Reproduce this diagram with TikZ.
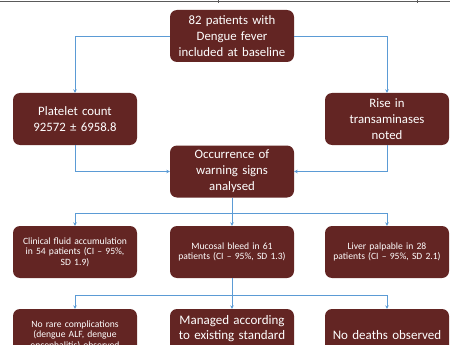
\documentclass[tikz,border=0pt]{standalone}
\usepackage{fontspec}
\setmainfont{Carlito}
\usetikzlibrary{arrows.meta}
\definecolor{boxred}{HTML}{632523}
\definecolor{linkblue}{HTML}{5B9BD5}
\definecolor{rulegray}{HTML}{5A5A5A}
\begin{document}
\begin{tikzpicture}[
  x=1pt, y=-1pt,
  box/.style={rectangle, rounded corners=7pt, fill=boxred, text=white,
    minimum width=124pt, minimum height=52pt, inner sep=2pt,
    text width=120pt, align=center, font=\fontsize{12.8}{16}\selectfont},
  smallbox/.style={box, font=\fontsize{9.6}{10.5}\selectfont},
  largebox/.style={box, font=\fontsize{13}{15}\selectfont},
  link/.style={draw=linkblue, line width=0.8pt, -{Stealth[length=3.5pt,width=3.5pt]}}
]
\useasboundingbox (0,0) rectangle (450,345);
\clip (0,0) rectangle (450,345);
% rule of the table above
\draw[rulegray, line width=1.3pt] (0,1.5) -- (450,1.5);
\draw[rulegray, line width=0.8pt] (218,0) -- (218,3) (417,0) -- (417,3);

\node[box] (base) at (232,36) {82 patients with\\Dengue fever\\included at baseline};
\node[box] (platelet) at (75,119) {Platelet count\\92572 ± 6958.8};
\node[box] (transam) at (387,119) {Rise in\\transaminases\\noted};
\node[box] (warning) at (232,171.5) {Occurrence of\\warning signs\\analysed};

\node[smallbox] (fluid) at (75,252) {Clinical fluid accumulation\\in 54 patients (CI – 95\%,\\SD 1.9)};
\node[smallbox] (bleed) at (232,252) {Mucosal bleed in 61\\patients (CI – 95\%, SD 1.3)};
\node[smallbox] (liver) at (387,252) {Liver palpable in 28\\patients (CI – 95\%, SD 2.1)};

\node[smallbox] (rare) at (75,335) {No rare complications\\(dengue ALF, dengue\\encephalitis) observed};
\node[largebox] (managed) at (232,335) {Managed according\\to existing standard\\~};
\node[largebox] (deaths) at (387,335) {No deaths observed};

\coordinate (split1) at (232,213);
\coordinate (split2) at (232,295);

\draw[link] (base.west) -| (platelet.north);
\draw[link] (base.east) -| (transam.north);
\draw[link] (platelet.south) |- (warning.west);
\draw[link] (transam.south) |- (warning.east);

\draw[link] (warning.south) -- (bleed.north);
\draw[link] (split1) -| (fluid.north);
\draw[link] (split1) -| (liver.north);

\draw[link] (bleed.south) -- (managed.north);
\draw[link] (split2) -| (rare.north);
\draw[link] (split2) -| (deaths.north);
\end{tikzpicture}
\end{document}
